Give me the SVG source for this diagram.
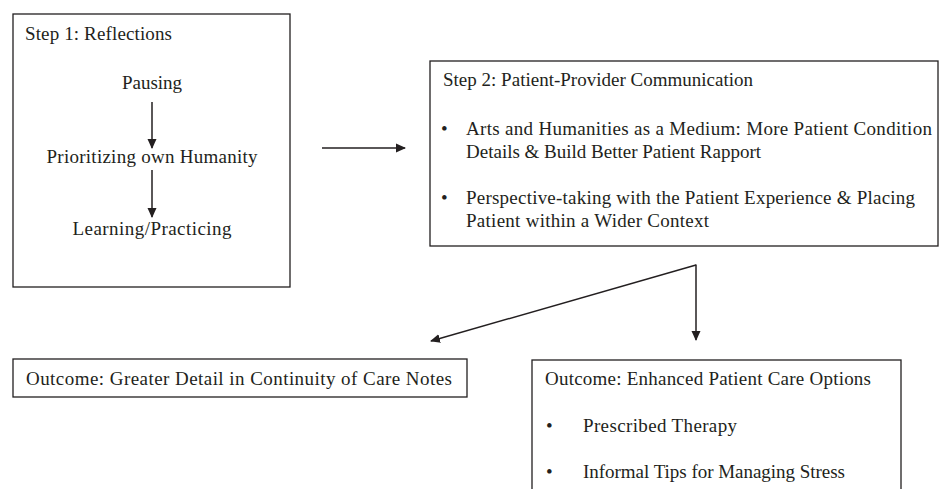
<svg xmlns="http://www.w3.org/2000/svg" width="940" height="489" viewBox="0 0 940 489">
<style>
.box{fill:#fff;stroke:#231f20;stroke-width:1.3}
text{font-family:"Liberation Serif","Times New Roman",serif;font-size:19px;fill:#231f20}
.c{text-anchor:middle}
.ln{stroke:#231f20;stroke-width:1.5;fill:none}
</style>
<defs>
<marker id="ah" markerWidth="10" markerHeight="10" refX="9" refY="5" orient="auto" markerUnits="userSpaceOnUse">
<path d="M0,0.5 L10,5 L0,9.5 Z" fill="#231f20"/>
</marker>
</defs>
<rect width="940" height="489" fill="#fff"/>
<g id="step1">
<rect class="box" x="13" y="14" width="277" height="273"/>
<text x="25" y="40" textLength="147" lengthAdjust="spacing">Step 1: Reflections</text>
<text class="c" x="152" y="89">Pausing</text>
<text class="c" x="152" y="163" textLength="211" lengthAdjust="spacing">Prioritizing own Humanity</text>
<text class="c" x="152" y="235" textLength="159" lengthAdjust="spacing">Learning/Practicing</text>
<line class="ln" x1="152" y1="102" x2="152" y2="148" marker-end="url(#ah)"/>
<line class="ln" x1="152" y1="170" x2="152" y2="217" marker-end="url(#ah)"/>
</g>
<g id="step2">
<rect class="box" x="430" y="61" width="508" height="185"/>
<text x="443" y="86" textLength="310" lengthAdjust="spacing">Step 2: Patient-Provider Communication</text>
<text x="441" y="135">•</text>
<text x="466" y="135" textLength="466" lengthAdjust="spacing">Arts and Humanities as a Medium: More Patient Condition</text>
<text x="466" y="158" textLength="295" lengthAdjust="spacing">Details &amp; Build Better Patient Rapport</text>
<text x="441" y="204">•</text>
<text x="466" y="204" textLength="449" lengthAdjust="spacing">Perspective-taking with the Patient Experience &amp; Placing</text>
<text x="466" y="227" textLength="243" lengthAdjust="spacing">Patient within a Wider Context</text>
</g>
<g id="outcome1">
<rect class="box" x="13" y="359" width="454" height="38"/>
<text x="26" y="385" textLength="426" lengthAdjust="spacing">Outcome: Greater Detail in Continuity of Care Notes</text>
</g>
<g id="outcome2">
<rect class="box" x="532" y="360" width="369" height="140"/>
<text x="545" y="385" textLength="326" lengthAdjust="spacing">Outcome: Enhanced Patient Care Options</text>
<text x="546" y="432">•</text>
<text x="583" y="432" textLength="154" lengthAdjust="spacing">Prescribed Therapy</text>
<text x="546" y="478">•</text>
<text x="583" y="478" textLength="262" lengthAdjust="spacing">Informal Tips for Managing Stress</text>
</g>
<g id="connectors">
<line class="ln" x1="322" y1="148" x2="405" y2="148" marker-end="url(#ah)"/>
<path class="ln" d="M696,265 L431,341" marker-end="url(#ah)"/>
<path class="ln" d="M696,264.5 L696,340" marker-end="url(#ah)"/>
</g>
</svg>
